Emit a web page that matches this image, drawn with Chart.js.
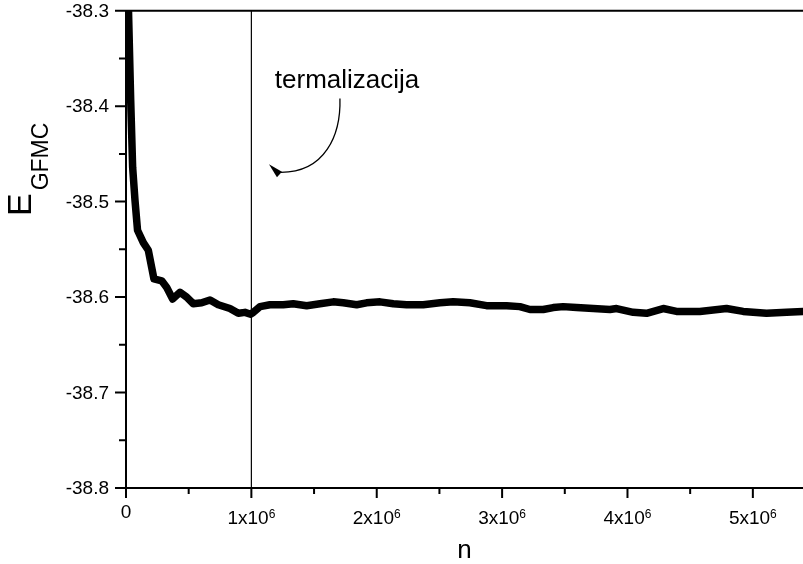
<!DOCTYPE html>
<html>
<head>
<meta charset="utf-8">
<script src="https://cdn.jsdelivr.net/npm/chart.js@4.4.1/dist/chart.umd.min.js"></script>
<style>
  html, body { margin: 0; padding: 0; background: #fff; }
  canvas { display: block; }
</style>
</head>
<body>
<canvas id="chart" width="803" height="564"></canvas>
<script>
// GFMC energy vs. step number
const nValues = [
  0, 20000, 37500, 53000, 72000, 92000, 138000, 178000, 205000, 223000,
  285000, 325000, 372000, 431000, 484000, 537000, 604000, 670000, 736000, 829000,
  896000, 949000, 994000, 1015000, 1069000, 1148000, 1254000, 1334000, 1441000, 1547000,
  1653000, 1733000, 1840000, 1919000, 2026000, 2132000, 2238000, 2371000, 2504000, 2610000,
  2743000, 2876000, 3036000, 3142000, 3222000, 3328000, 3408000, 3487000, 3594000, 3727000,
  3860000, 3913000, 4046000, 4152000, 4285000, 4391000, 4577000, 4790000, 4923000, 5109000,
  5269000, 5400000
];
const energyValues = [
  -38.05, -38.300, -38.394, -38.464, -38.499, -38.530, -38.543, -38.551, -38.569, -38.581,
  -38.583, -38.590, -38.602, -38.595, -38.600, -38.607, -38.606, -38.603, -38.608, -38.612,
  -38.617, -38.616, -38.618, -38.616, -38.610, -38.608, -38.608, -38.607, -38.609, -38.607,
  -38.605, -38.606, -38.608, -38.606, -38.605, -38.607, -38.608, -38.608, -38.606, -38.605,
  -38.606, -38.609, -38.609, -38.610, -38.613, -38.613, -38.611, -38.610, -38.611, -38.612,
  -38.613, -38.612, -38.616, -38.617, -38.612, -38.615, -38.615, -38.612, -38.615, -38.617,
  -38.616, -38.615
];

const thermalizationN = 1000000;

const xMajorTicks = [0, 1000000, 2000000, 3000000, 4000000, 5000000];
const xTickMantissas = ['0', '1', '2', '3', '4', '5'];
const xMinorTicks = [500000, 1500000, 2500000, 3500000, 4500000];
const yMajorTicks = [-38.3, -38.4, -38.5, -38.6, -38.7, -38.8];
const yTickLabels = ['-38.3', '-38.4', '-38.5', '-38.6', '-38.7', '-38.8'];
const yMinorTicks = [-38.35, -38.45, -38.55, -38.65, -38.75];

// annotation arrow, in data units: start, two control points, end, head
const arrowPath = [
  [1706500, -38.3919], [1714500, -38.4304], [1586900, -38.4693], [1236000, -38.4693]
];
const arrowHead = [[1140400, -38.4609], [1244000, -38.4687], [1204100, -38.4744]];
const annotationText = 'termalizacija';
const annotationAt = [1187000, -38.3815];

const FONT = '"Liberation Sans", Arial, Helvetica, sans-serif';

const framePlugin = {
  id: 'frame',
  afterDraw(chart) {
    const { ctx, chartArea: a, scales: { x, y } } = chart;
    ctx.save();
    ctx.strokeStyle = '#000';
    ctx.fillStyle = '#000';
    ctx.lineWidth = 2;
    ctx.beginPath();
    ctx.moveTo(a.right, a.top);
    ctx.lineTo(a.left, a.top);
    ctx.lineTo(a.left, a.bottom);
    ctx.lineTo(a.right, a.bottom);
    xMajorTicks.forEach(v => {
      const px = x.getPixelForValue(v);
      ctx.moveTo(px, a.bottom); ctx.lineTo(px, a.bottom + 10);
    });
    xMinorTicks.forEach(v => {
      const px = x.getPixelForValue(v);
      ctx.moveTo(px, a.bottom); ctx.lineTo(px, a.bottom + 6);
    });
    yMajorTicks.forEach(v => {
      const py = y.getPixelForValue(v);
      ctx.moveTo(a.left, py); ctx.lineTo(a.left - 11, py);
    });
    yMinorTicks.forEach(v => {
      const py = y.getPixelForValue(v);
      ctx.moveTo(a.left, py); ctx.lineTo(a.left - 7, py);
    });
    ctx.stroke();

    // y tick labels
    ctx.font = '19px ' + FONT;
    ctx.textAlign = 'right';
    ctx.textBaseline = 'middle';
    yMajorTicks.forEach((v, i) => {
      ctx.fillText(yTickLabels[i], a.left - 17, y.getPixelForValue(v) + 1);
    });

    // x tick labels with superscript exponent
    ctx.textBaseline = 'alphabetic';
    xMajorTicks.forEach((v, i) => {
      const px = x.getPixelForValue(v);
      ctx.textAlign = 'left';
      if (xTickMantissas[i] === '0') {
        ctx.font = '19px ' + FONT;
        const w = ctx.measureText('0').width;
        ctx.fillText('0', px - w / 2, 518);
        return;
      }
      const main = xTickMantissas[i] + 'x10';
      ctx.font = '19px ' + FONT;
      const wm = ctx.measureText(main).width;
      ctx.font = '12px ' + FONT;
      const ws = ctx.measureText('6').width;
      const left = px - (wm + ws) / 2;
      ctx.font = '19px ' + FONT;
      ctx.fillText(main, left, 524);
      ctx.font = '12px ' + FONT;
      ctx.fillText('6', left + wm, 518);
    });

    // x title
    ctx.font = '26px ' + FONT;
    ctx.textAlign = 'center';
    ctx.fillText('n', (a.left + a.right) / 2, 558);

    // y title: E with subscript GFMC
    ctx.save();
    ctx.translate(31, 216);
    ctx.rotate(-Math.PI / 2);
    ctx.textAlign = 'left';
    ctx.font = '34px ' + FONT;
    ctx.fillText('E', 0, 0);
    const we = ctx.measureText('E').width;
    ctx.font = '23px ' + FONT;
    ctx.fillText('GFMC', we + 3, 17);
    ctx.restore();

    // annotation
    const P = p => [x.getPixelForValue(p[0]), y.getPixelForValue(p[1])];
    ctx.font = '26px ' + FONT;
    ctx.textAlign = 'left';
    const t = P(annotationAt);
    ctx.fillText(annotationText, t[0], t[1]);

    const [p0, c1, c2, p3] = arrowPath.map(P);
    ctx.lineWidth = 1.3;
    ctx.beginPath();
    ctx.moveTo(p0[0], p0[1]);
    ctx.bezierCurveTo(c1[0], c1[1], c2[0], c2[1], p3[0], p3[1]);
    ctx.stroke();
    const h = arrowHead.map(P);
    ctx.beginPath();
    ctx.moveTo(h[0][0], h[0][1]);
    ctx.lineTo(h[1][0], h[1][1]);
    ctx.lineTo(h[2][0], h[2][1]);
    ctx.closePath();
    ctx.fill();
    ctx.restore();
  }
};

new Chart(document.getElementById('chart').getContext('2d'), {
  type: 'line',
  data: {
    datasets: [
      {
        data: nValues.map((n, i) => ({ x: n, y: energyValues[i] })),
        borderColor: '#000',
        borderWidth: 7.5,
        borderJoinStyle: 'round',
        borderCapStyle: 'round',
        pointRadius: 0,
        tension: 0,
        clip: 0
      },
      {
        data: [{ x: thermalizationN, y: -38.3 }, { x: thermalizationN, y: -38.8 }],
        borderColor: '#000',
        borderWidth: 1.2,
        pointRadius: 0,
        clip: 0
      }
    ]
  },
  options: {
    responsive: false,
    animation: false,
    layout: { padding: { top: 10.7, right: 0, left: 0, bottom: 0 } },
    plugins: { legend: { display: false }, tooltip: { enabled: false } },
    scales: {
      x: {
        type: 'linear', min: 0, max: 5400000,
        grid: { display: false }, border: { display: false },
        ticks: { display: false },
        afterFit(s) { s.height = 76; }
      },
      y: {
        type: 'linear', min: -38.8, max: -38.3,
        grid: { display: false }, border: { display: false },
        ticks: { display: false },
        afterFit(s) { s.width = 126; }
      }
    }
  },
  plugins: [framePlugin]
});
</script>
</body>
</html>
